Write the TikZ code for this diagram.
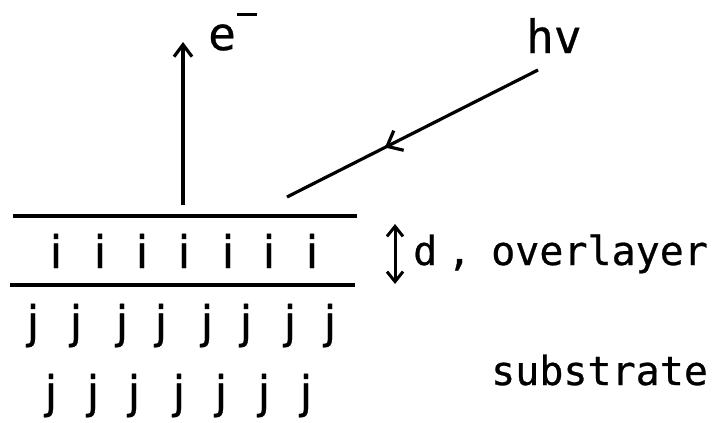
\documentclass[tikz,border=0pt]{standalone}
\usepackage{fontspec}
\newfontfamily\labelfont[FakeBold=0.6]{DejaVu Sans Mono}
\newfontfamily\ijfont[FakeBold=0.6]{DejaVu Sans}
\usetikzlibrary{arrows.meta,decorations.markings}
\begin{document}
\begin{tikzpicture}[x=1pt,y=-1pt,
  layerline/.style={line width=3.6pt},
  toplabel/.style={inner sep=0pt,anchor=base west,font=\labelfont\fontsize{46}{50}\selectfont},
  sidelabel/.style={inner sep=0pt,anchor=base west,font=\labelfont\fontsize{40}{44}\selectfont},
  atomlabel/.style={inner sep=0pt,anchor=base,font=\ijfont\fontsize{45}{50}\selectfont},
  ray/.style={line width=3.2pt},
  barb/.style={-{Straight Barb[length=12pt,width=18pt,line width=3.2pt]}}
]
\useasboundingbox (0,0) rectangle (723,423);
% surface lines
\coordinate (t1) at (13,216);
\coordinate (t2) at (357,216);
\coordinate (b1) at (10,285);
\coordinate (b2) at (355,285);
\draw[layerline] (t1) -- (t2);
\draw[layerline] (b1) -- (b2);
% overlayer atoms
\foreach \x [count=\k] in {56,100,142,184,228,269,312}
  \node[atomlabel] (i\k) at (\x,268) {i};
% substrate atoms
\foreach \x [count=\k] in {33,76,122,161,207,246,290,330}
  \node[atomlabel] (ja\k) at (\x,338) {j};
\foreach \x [count=\k] in {51,93,134,179,221,264,306}
  \node[atomlabel] (jb\k) at (\x,408) {j};
% electron
\coordinate (es) at (183,205);
\coordinate (ee) at (183,42);
\draw[ray,barb] (es) -- (ee);
\node[toplabel] (elab) at (208,50) {e\hspace{1pt}\raisebox{34pt}{\rule{20pt}{3.4pt}}};
% photon
\coordinate (ps) at (538,70);
\coordinate (pe) at (287,197);
\draw[ray,decoration={markings,mark=at position 0.61 with {\arrow{Straight Barb[length=13pt,width=22pt,line width=3.2pt]}}},postaction={decorate}] (ps) -- (pe);
\node[toplabel] (hv) at (526,53) {hv};
% thickness
\coordinate (d1) at (395,224);
\coordinate (d2) at (395,284);
\draw[line width=3pt,{Straight Barb[length=10pt,width=16pt,line width=3pt]}-{Straight Barb[length=10pt,width=16pt,line width=3pt]}] (d1) -- (d2);
\node[sidelabel] (dlab) at (413,265) {d\hspace{10pt},};
\node[sidelabel] (over) at (491,265) {overlayer};
\node[sidelabel] (sub) at (491,385) {substrate};
\end{tikzpicture}
\end{document}
